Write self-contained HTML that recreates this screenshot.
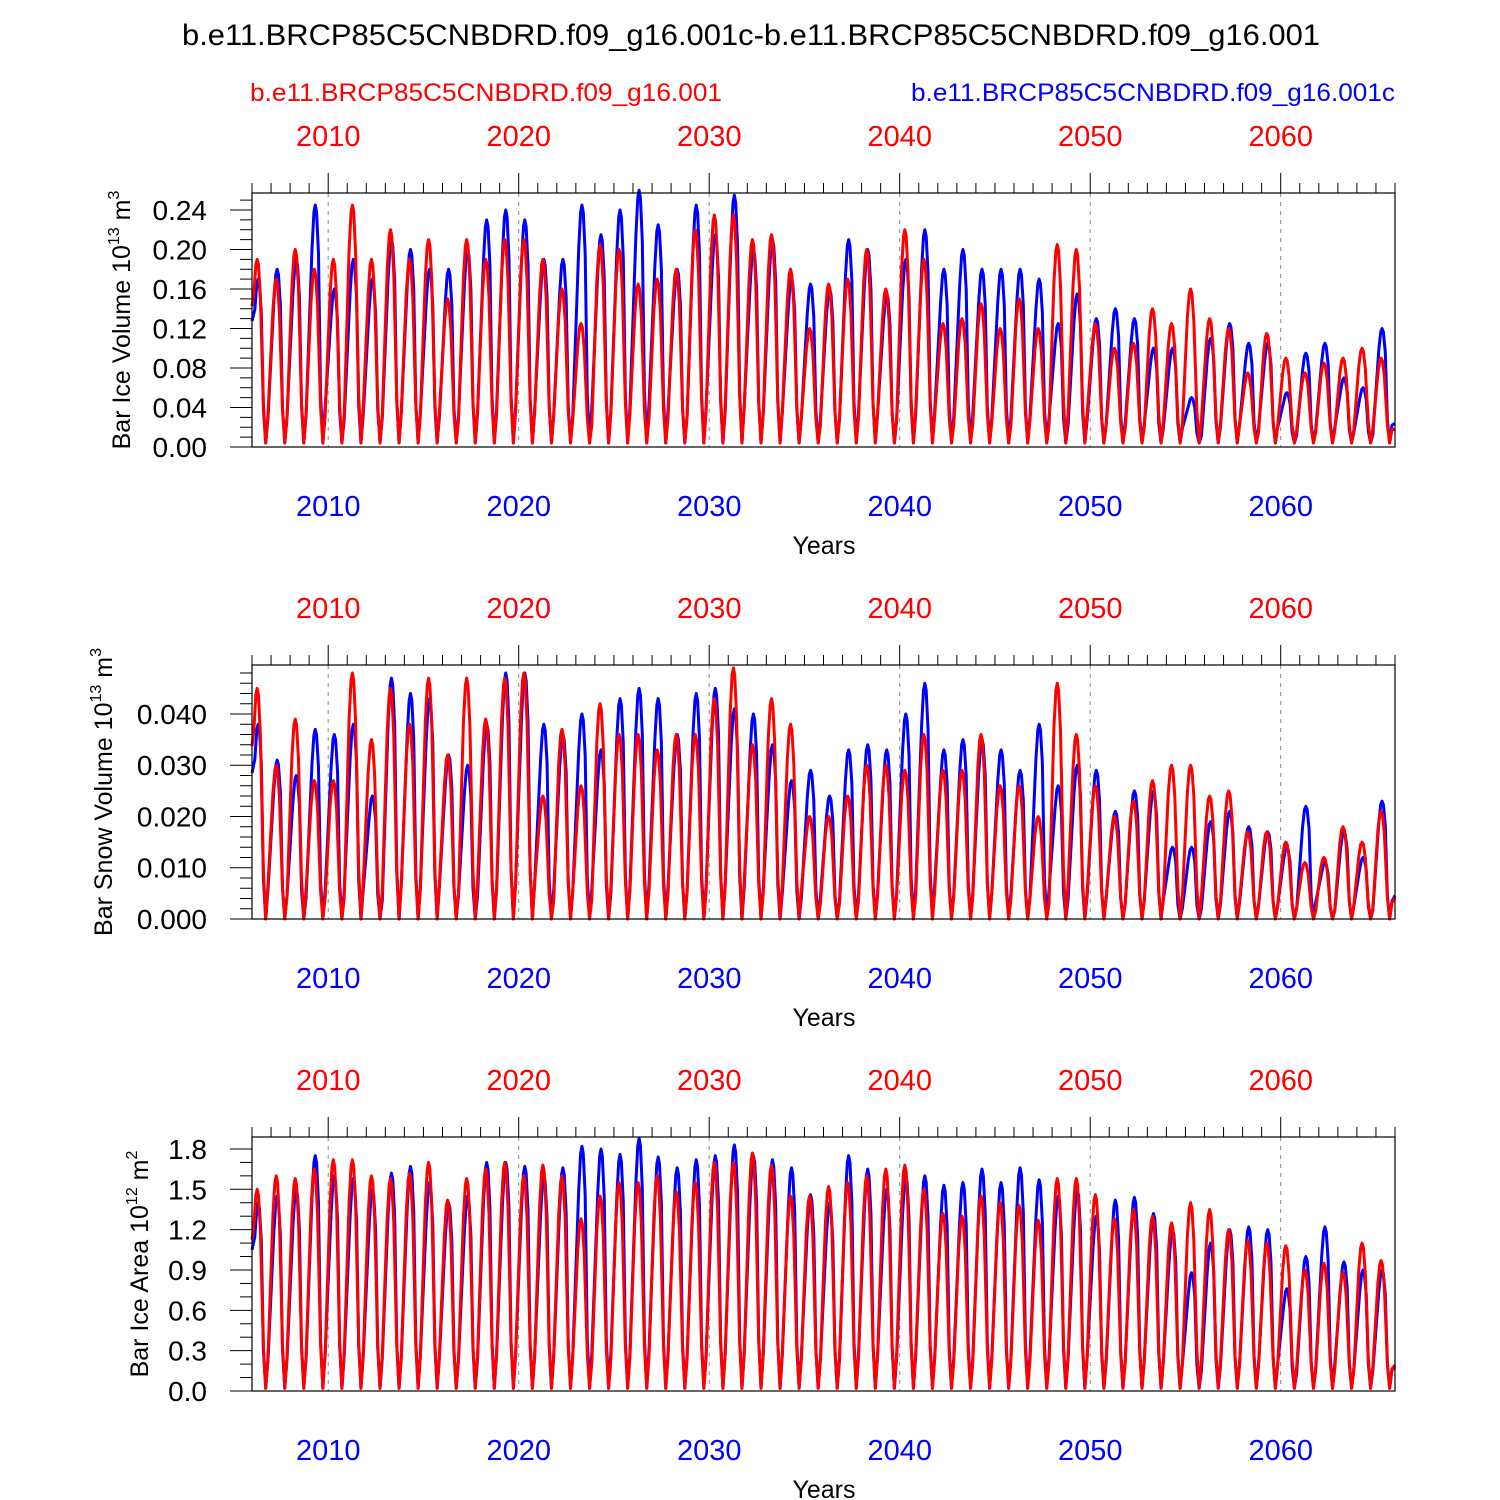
<!DOCTYPE html>
<html><head><meta charset="utf-8"><style>
body{margin:0;background:#fff}
svg{display:block;font-family:"Liberation Sans",Arial,sans-serif}
</style></head><body>
<svg id="chart" width="1500" height="1500" viewBox="0 0 1500 1500" xmlns="http://www.w3.org/2000/svg">
<text x="751" y="45" font-size="30" text-anchor="middle" textLength="1138" lengthAdjust="spacingAndGlyphs">b.e11.BRCP85C5CNBDRD.f09_g16.001c-b.e11.BRCP85C5CNBDRD.f09_g16.001</text>
<text x="250" y="101" font-size="25" fill="#f00" textLength="472" lengthAdjust="spacingAndGlyphs">b.e11.BRCP85C5CNBDRD.f09_g16.001</text>
<text x="911" y="101" font-size="25" fill="#00f" textLength="484" lengthAdjust="spacingAndGlyphs">b.e11.BRCP85C5CNBDRD.f09_g16.001c</text>
</svg>
<script>
const years=[];for(let y=2006;y<=2065;y++)years.push(y);
const xTickYears=[2010,2020,2030,2040,2050,2060];
const volRedPeak=[0.19,0.17,0.20,0.18,0.19,0.245,0.19,0.22,0.19,0.21,0.15,0.21,0.19,0.21,0.21,0.19,0.16,0.125,0.205,0.20,0.165,0.17,0.18,0.22,0.235,0.235,0.21,0.215,0.18,0.12,0.165,0.17,0.20,0.16,0.22,0.19,0.125,0.13,0.145,0.12,0.15,0.12,0.205,0.20,0.125,0.10,0.105,0.14,0.125,0.16,0.13,0.12,0.075,0.115,0.09,0.075,0.085,0.09,0.10,0.09];
const volBluePeak=[0.17,0.18,0.19,0.245,0.16,0.19,0.17,0.21,0.20,0.18,0.18,0.20,0.23,0.24,0.23,0.19,0.19,0.245,0.215,0.24,0.26,0.225,0.18,0.245,0.215,0.255,0.20,0.21,0.17,0.165,0.16,0.21,0.20,0.155,0.19,0.22,0.18,0.20,0.18,0.18,0.18,0.17,0.125,0.155,0.13,0.14,0.13,0.10,0.10,0.05,0.11,0.125,0.105,0.105,0.055,0.095,0.105,0.07,0.06,0.12];
const snowRedPeak=[0.045,0.03,0.039,0.027,0.027,0.048,0.035,0.045,0.038,0.047,0.032,0.047,0.039,0.047,0.048,0.024,0.037,0.026,0.042,0.036,0.036,0.033,0.036,0.036,0.043,0.049,0.034,0.043,0.038,0.02,0.02,0.024,0.03,0.03,0.029,0.036,0.029,0.029,0.036,0.026,0.026,0.02,0.046,0.036,0.026,0.02,0.023,0.027,0.030,0.030,0.024,0.025,0.017,0.017,0.015,0.011,0.012,0.018,0.015,0.021];
const snowBluePeak=[0.038,0.031,0.028,0.037,0.036,0.038,0.024,0.047,0.044,0.043,0.032,0.03,0.038,0.048,0.048,0.038,0.036,0.040,0.033,0.043,0.045,0.043,0.036,0.044,0.045,0.041,0.040,0.034,0.027,0.029,0.024,0.033,0.034,0.033,0.040,0.046,0.033,0.035,0.035,0.033,0.029,0.038,0.026,0.030,0.029,0.021,0.025,0.025,0.014,0.014,0.019,0.021,0.018,0.017,0.014,0.022,0.011,0.017,0.012,0.023];
const areaRedPeak=[1.5,1.6,1.58,1.65,1.72,1.72,1.6,1.58,1.62,1.7,1.42,1.58,1.65,1.7,1.6,1.68,1.6,1.28,1.45,1.55,1.55,1.6,1.48,1.55,1.7,1.7,1.77,1.68,1.45,1.45,1.52,1.55,1.6,1.65,1.68,1.5,1.32,1.3,1.45,1.4,1.38,1.27,1.58,1.58,1.46,1.28,1.35,1.3,1.25,1.4,1.35,1.2,1.12,1.1,1.08,0.9,0.95,0.88,1.1,0.97];
const areaBluePeak=[1.4,1.45,1.5,1.75,1.6,1.58,1.5,1.62,1.67,1.55,1.4,1.45,1.7,1.7,1.67,1.6,1.66,1.82,1.8,1.76,1.88,1.74,1.66,1.72,1.75,1.83,1.75,1.72,1.66,1.46,1.4,1.75,1.65,1.5,1.6,1.6,1.53,1.55,1.65,1.55,1.66,1.57,1.45,1.5,1.3,1.42,1.44,1.32,1.2,0.88,1.1,1.2,1.22,1.2,0.76,1.0,1.22,0.96,0.9,0.9];
const volTrough=0.004, snowTrough=0.0, areaTrough=0.02;

const svg=document.getElementById('chart');
const NS='http://www.w3.org/2000/svg';
function mk(tag,attrs,parent){const e=document.createElementNS(NS,tag);for(const k in attrs)e.setAttribute(k,attrs[k]);(parent||svg).appendChild(e);return e;}
const X0=252,X1=1395,T0=2006,T1=2066;
const xs=t=>X0+(t-T0)/(T1-T0)*(X1-X0);

const panels=[
 {name:'ice-volume',top:193,bot:447,ymax:0.2572,major:0.04,minor:0.01,dec:2,title:'Bar Ice Volume 10',sup:'13',unit:' m',usup:'3',tx:130,red:volRedPeak,blue:volBluePeak,tr:volTrough},
 {name:'snow-volume',top:665,bot:919,ymax:0.04956,major:0.01,minor:0.002,dec:3,title:'Bar Snow Volume 10',sup:'13',unit:' m',usup:'3',tx:112,red:snowRedPeak,blue:snowBluePeak,tr:snowTrough},
 {name:'ice-area',top:1137,bot:1391,ymax:1.889,major:0.3,minor:0.1,dec:1,title:'Bar Ice Area 10',sup:'12',unit:' m',usup:'2',tx:148,red:areaRedPeak,blue:areaBluePeak,tr:areaTrough}
];
panels.forEach((p,pi)=>{
 const g=mk('g',{});
 
 
 const ys=v=>p.bot-v/p.ymax*(p.bot-p.top);
 xTickYears.forEach(yr=>{const l=mk('line',{x1:xs(yr),x2:xs(yr),y1:p.top,y2:p.bot,stroke:'#888','stroke-dasharray':'4,5','stroke-width':1},g);
  });
 for(let yr=T0;yr<=T1;yr++){const big=yr%10===0;const len=big?20:10;
  mk('line',{x1:xs(yr),x2:xs(yr),y1:p.top,y2:p.top-len,stroke:'#000','stroke-width':1},g);}
 xTickYears.forEach(yr=>{
  const t1=mk('text',{x:xs(yr),y:p.top-47,'font-size':29,fill:'#f00','text-anchor':'middle'},g);t1.textContent=yr;
  
  const t2=mk('text',{x:xs(yr),y:p.bot+69,'font-size':29,fill:'#00f','text-anchor':'middle'},g);t2.textContent=yr;
  });
 const xt=mk('text',{x:824,y:p.bot+107,'font-size':25,'text-anchor':'middle'},g);xt.textContent='Years';
 
 for(let i=0;i*p.minor<=p.ymax+1e-9;i++){const v=i*p.minor;const isMaj=Math.abs(v/p.major-Math.round(v/p.major))<1e-6;
  mk('line',{x1:X0,x2:X0-(isMaj?22:12),y1:ys(v),y2:ys(v),stroke:'#000'},g);
  if(isMaj){const t=mk('text',{x:207,y:ys(v)+10,'font-size':28,'text-anchor':'end'},g);t.textContent=v.toFixed(p.dec);
   }}
 const yt=mk('text',{transform:`translate(${p.tx},${(p.top+p.bot)/2}) rotate(-90)`,'font-size':25,'text-anchor':'middle'},g);
 
 yt.innerHTML=`${p.title}<tspan font-size="16" dy="-11">${p.sup}</tspan><tspan dy="11">${p.unit}</tspan><tspan font-size="16" dy="-11">${p.usup}</tspan>`;
 [['blue',p.blue,'#00f',0.32],['red',p.red,'#f00',0.27]].forEach(([nm,arr,col,off])=>{
  let d=`M${xs(T0)},${ys(arr[0]*0.75)}`;
  years.forEach((yr,i)=>{d+=` L${xs(yr+off-0.17)},${ys(arr[i]*0.82)} L${xs(yr+off-0.07)},${ys(arr[i]*0.97)} L${xs(yr+off)},${ys(arr[i])} L${xs(yr+off+0.07)},${ys(arr[i]*0.97)} L${xs(yr+off+0.17)},${ys(arr[i]*0.8)} L${xs(yr+0.6)},${ys(p.tr+arr[i]*0.2)} L${xs(yr+0.72)},${ys(p.tr)} L${xs(yr+0.84)},${ys(p.tr+arr[i]*0.15)}`;});
  d+=` L${xs(T1)},${ys(arr[arr.length-1]*0.2)}`;
  const path=mk('path',{d:d,fill:'none',stroke:col,'stroke-width':3,'stroke-linejoin':'round'},g);
  });
 const fr=mk('rect',{x:X0,y:p.top,width:X1-X0,height:p.bot-p.top,fill:'none',stroke:'#000','stroke-width':1.2},g);
 
});
</script>
</body></html>
